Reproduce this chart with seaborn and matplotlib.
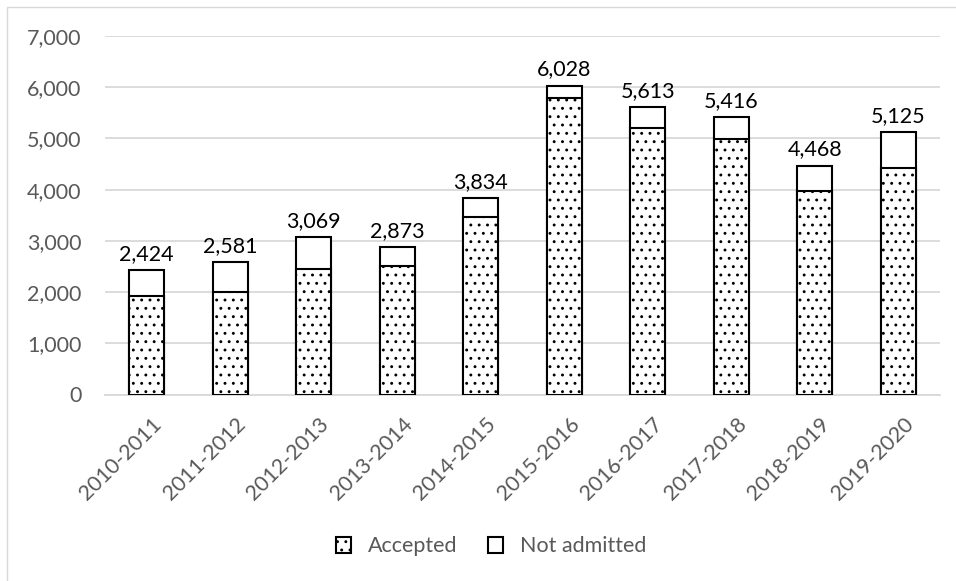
import matplotlib
matplotlib.use("Agg")
import matplotlib.pyplot as plt
import matplotlib.transforms as mtransforms
import seaborn as sns
import pandas as pd
from matplotlib.patches import Patch, Rectangle
from matplotlib.ticker import FuncFormatter, MultipleLocator

# Academic years and application counts
years = ["2010-2011", "2011-2012", "2012-2013", "2013-2014", "2014-2015",
         "2015-2016", "2016-2017", "2017-2018", "2018-2019", "2019-2020"]
totals = [2424, 2581, 3069, 2873, 3834, 6028, 5613, 5416, 4468, 5125]
accepted = [1915, 2000, 2451, 2516, 3461, 5787, 5207, 4995, 3969, 4414]
series_labels = ["Accepted", "Not admitted"]

sns.set_theme(style="white")
plt.rcParams["font.family"] = ["Lato", "DejaVu Sans"]
plt.rcParams["hatch.linewidth"] = 0.9

GREY_TEXT = "#595959"
GRID = "#d9d9d9"
FS = 15.5

df = pd.DataFrame({"year": years, "total": totals, "accepted": accepted})

fig, ax = plt.subplots(figsize=(9.56, 5.81), dpi=100)
fig.patch.set_facecolor("white")
fig.subplots_adjust(left=105 / 956, right=940 / 956,
                    top=1 - 36 / 581, bottom=1 - 394.5 / 581)

# Full bar (total) in white, accepted part drawn over it with a dotted fill
sns.barplot(data=df, x="year", y="total", color="white", saturation=1,
            edgecolor="black", linewidth=1.5, width=0.42, ax=ax, zorder=2)
sns.barplot(data=df, x="year", y="accepted", color="white", saturation=1,
            edgecolor="black", linewidth=1.5, width=0.42, hatch="..",
            ax=ax, zorder=3)

# Total labels above each bar
for i, t in enumerate(df["total"]):
    ax.annotate(f"{t:,}", (i, t), xytext=(0, 4.5), textcoords="offset points",
                ha="center", va="bottom", fontsize=FS, color="black")

ax.set_ylim(0, 7000)
ax.yaxis.set_major_locator(MultipleLocator(1000))
ax.yaxis.set_major_formatter(FuncFormatter(lambda v, p: f"{int(v):,}"))
ax.yaxis.grid(True, color=GRID, linewidth=1.3)
ax.set_axisbelow(True)
for side in ["left", "right", "top"]:
    ax.spines[side].set_visible(False)
ax.spines["bottom"].set_color(GRID)
ax.spines["bottom"].set_linewidth(1.3)
ax.set_xlabel("")
ax.set_ylabel("")
ax.tick_params(axis="y", length=0, pad=17, labelsize=FS, labelcolor=GREY_TEXT)
ax.tick_params(axis="x", length=0, pad=14, labelsize=FS, labelcolor=GREY_TEXT)
shift = mtransforms.ScaledTranslation(12 / 100, -7 / 100, fig.dpi_scale_trans)
for lbl in ax.get_xticklabels():
    lbl.set_rotation(45)
    lbl.set_ha("right")
    lbl.set_va("center")
    lbl.set_rotation_mode("anchor")
    lbl.set_transform(lbl.get_transform() + shift)

handles = [Patch(facecolor="white", edgecolor="black", hatch="..",
                 linewidth=1.5, label=series_labels[0]),
           Patch(facecolor="white", edgecolor="black",
                 linewidth=1.5, label=series_labels[1])]
fig.legend(handles=handles, loc="center",
           bbox_to_anchor=(491 / 956, 1 - 546.5 / 581), ncol=2, frameon=False,
           handlelength=0.7, handleheight=0.7, handletextpad=0.8,
           columnspacing=1.4, fontsize=FS, labelcolor=GREY_TEXT)

# Light frame around the chart area
fig.add_artist(Rectangle((6.5 / 956, -0.1), 2, 1 - 7 / 581 + 0.1,
                         transform=fig.transFigure, fill=False,
                         edgecolor=GRID, linewidth=1))

fig.savefig("out.png", dpi=100)
